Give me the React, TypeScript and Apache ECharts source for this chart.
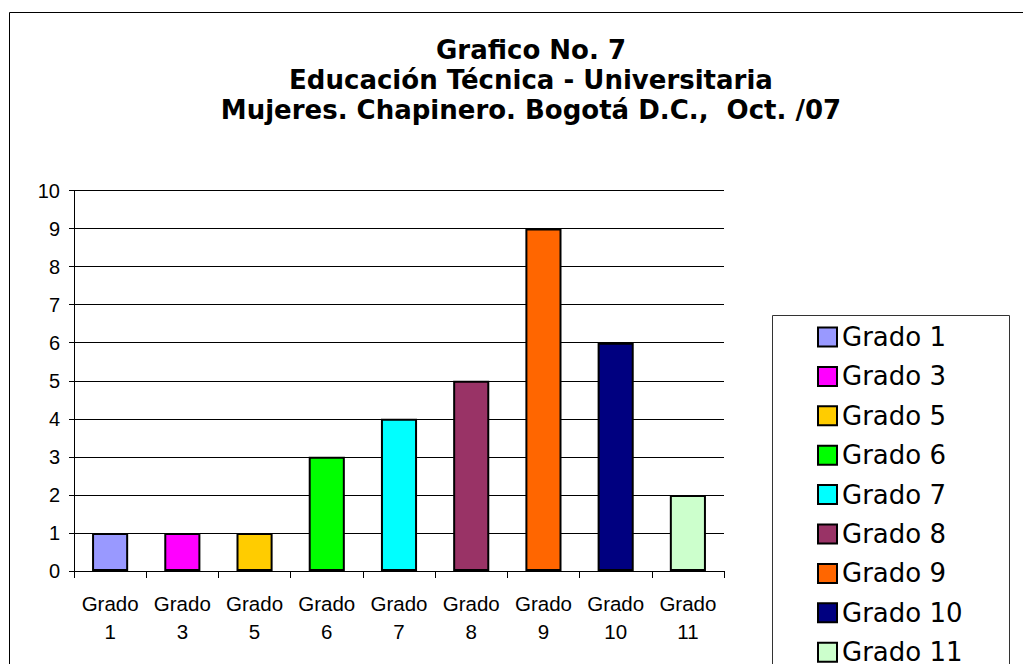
import React, { useEffect, useRef } from "react";
import * as echarts from "echarts";

const titleLines = [
  "Grafico No. 7",
  "Educación Técnica - Universitaria",
  "Mujeres. Chapinero. Bogotá D.C.,  Oct. /07",
];
const categories = [
  "Grado 1",
  "Grado 3",
  "Grado 5",
  "Grado 6",
  "Grado 7",
  "Grado 8",
  "Grado 9",
  "Grado 10",
  "Grado 11",
];
const values = [1, 1, 1, 3, 4, 5, 9, 6, 2];
const colors = [
  "#9999FF",
  "#FF00FF",
  "#FFCC00",
  "#00FF00",
  "#00FFFF",
  "#993366",
  "#FF6600",
  "#000080",
  "#CCFFCC",
];
const yTicks = [0, 1, 2, 3, 4, 5, 6, 7, 8, 9, 10];

export default function App() {
  const ref = useRef<HTMLDivElement>(null);
  useEffect(() => {
    if (!ref.current) return;
    const chart = echarts.init(ref.current, null, { renderer: "svg" });
    const option = {
      animation: false,
      backgroundColor: "#ffffff",
      title: {
        text: titleLines.join("\n"),
        left: 531,
        top: 35,
        textAlign: "center",
        padding: 0,
        textStyle: {
          fontFamily: "DejaVu Sans",
          fontWeight: "bold",
          fontSize: 26,
          lineHeight: 30,
          color: "#000",
        },
      },
      graphic: [
        {
          type: "rect",
          shape: { x: 9.5, y: 12.5, width: 1100, height: 1000 },
          style: { fill: "none", stroke: "#000", lineWidth: 1 },
          silent: true,
        },
        {
          type: "rect",
          shape: { x: 772.5, y: 315.5, width: 237, height: 500 },
          style: { fill: "none", stroke: "#333", lineWidth: 1 },
          silent: true,
        },
      ],
      legend: {
        orient: "vertical",
        left: 817,
        top: 324,
        width: 190,
        height: 420,
        padding: 0,
        icon: "rect",
        itemWidth: 19,
        itemHeight: 19,
        itemGap: 13.4,
        itemTextGap: 7,
        data: categories,
        textStyle: {
          fontFamily: "DejaVu Sans",
          fontSize: 26,
          lineHeight: 26,
          color: "#000",
        },
      },
      grid: {
        left: 74,
        right: 299,
        top: 190.5,
        bottom: 93,
        containLabel: false,
      },
      xAxis: {
        type: "category",
        data: categories,
        axisLine: { show: true, lineStyle: { color: "#000", width: 1 } },
        axisTick: { show: true, length: 7, lineStyle: { color: "#000" } },
        axisLabel: {
          interval: 0,
          margin: 18,
          fontFamily: "Liberation Sans",
          fontSize: 20.5,
          lineHeight: 28,
          color: "#000",
          formatter: (v: string) => v.replace(" ", "\n"),
        },
      },
      yAxis: {
        type: "value",
        min: yTicks[0],
        max: yTicks[yTicks.length - 1],
        interval: 1,
        axisLine: { show: true, lineStyle: { color: "#000", width: 1 } },
        axisTick: { show: true, length: 5, lineStyle: { color: "#000" } },
        axisLabel: {
          margin: 14,
          fontFamily: "Liberation Sans",
          fontSize: 20,
          color: "#000",
        },
        splitLine: { show: true, lineStyle: { color: "#000", width: 1 } },
      },
      series: categories.map((name, i) => ({
        name,
        type: "bar",
        stack: "all",
        barWidth: "50%",
        data: values.map((v, j) => (j === i ? v : "-")),
        itemStyle: { color: colors[i], borderColor: "#000", borderWidth: 2 },
      })),
    };
    chart.setOption(option as any);
    return () => chart.dispose();
  }, []);
  return (
    <div
      ref={ref}
      style={{ position: "fixed", left: 0, top: 0, width: 1023, height: 664, background: "#fff" }}
    />
  );
}
